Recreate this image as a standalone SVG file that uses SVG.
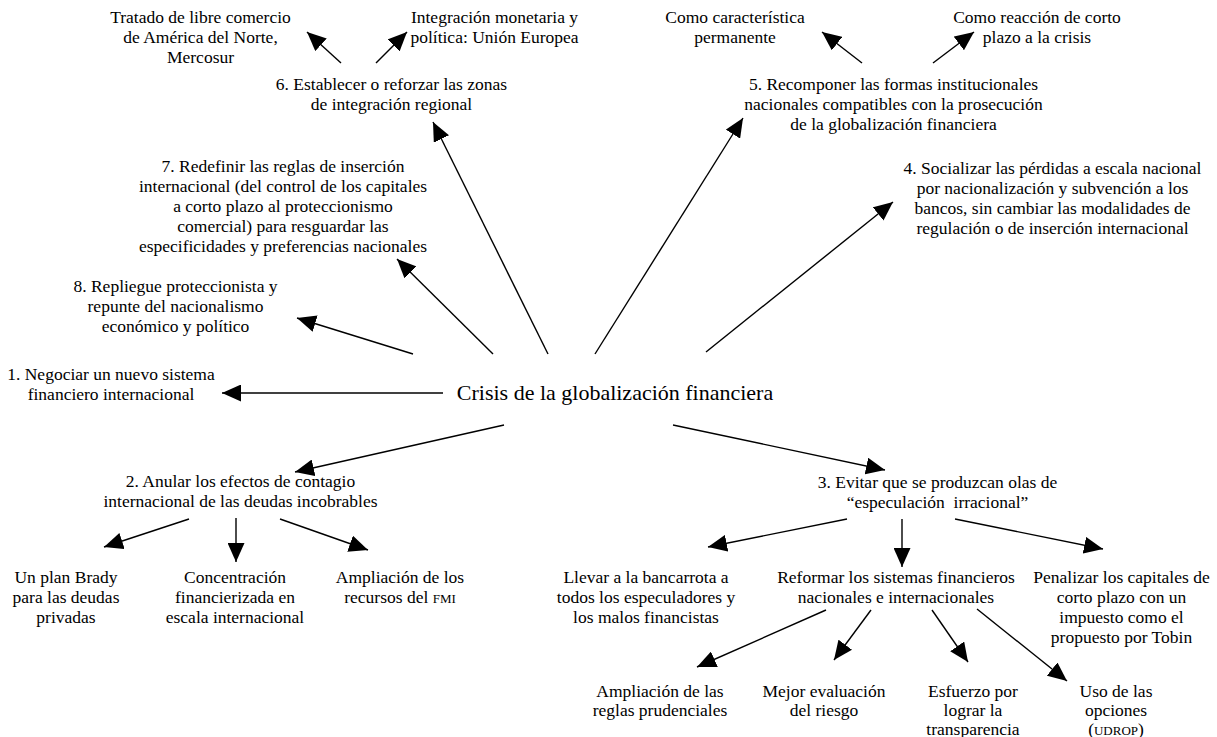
<svg xmlns="http://www.w3.org/2000/svg" width="1217" height="737" viewBox="0 0 1217 737">
<defs>
<marker id="ah" viewBox="0 0 19 17" refX="19" refY="8.5" markerWidth="19" markerHeight="17" orient="auto" markerUnits="userSpaceOnUse"><path d="M0,0 L19,8.5 L0,17 z" fill="#000"/></marker>
<style>
text{font-family:"Liberation Serif","Times New Roman",serif;font-size:17.5px;fill:#000;text-anchor:middle}
.title{font-size:22px}
.sc{font-size:13px}
#connectors line{stroke:#000;stroke-width:1.4;fill:none;marker-end:url(#ah)}
</style>
</defs>
<rect width="1217" height="737" fill="#fff"/>
<g id="connectors">
<line x1="443" y1="393" x2="222" y2="393"/>
<line x1="413" y1="354" x2="297" y2="318"/>
<line x1="493" y1="354" x2="397" y2="259"/>
<line x1="548" y1="354" x2="433" y2="122"/>
<line x1="595" y1="354" x2="743" y2="118"/>
<line x1="706" y1="352" x2="893" y2="202"/>
<line x1="504" y1="425" x2="295" y2="472"/>
<line x1="673" y1="425" x2="885" y2="470"/>
<line x1="341" y1="63" x2="307" y2="32"/>
<line x1="376" y1="63" x2="407" y2="32"/>
<line x1="862" y1="63" x2="822" y2="32"/>
<line x1="933" y1="63" x2="974" y2="32"/>
<line x1="189" y1="519" x2="104" y2="547"/>
<line x1="236" y1="518" x2="236" y2="562"/>
<line x1="280" y1="519" x2="368" y2="550"/>
<line x1="847" y1="519" x2="708" y2="547"/>
<line x1="902" y1="519" x2="902" y2="567"/>
<line x1="955" y1="519" x2="1103" y2="549"/>
<line x1="826" y1="610" x2="697" y2="667"/>
<line x1="871" y1="610" x2="834" y2="660"/>
<line x1="932" y1="610" x2="968" y2="662"/>
<line x1="977" y1="609" x2="1067" y2="681"/>
</g>
<g id="center"><text class="title" x="615" y="400">Crisis de la globalización financiera</text></g>
<g id="n1"><text x="111" y="380">1. Negociar un nuevo sistema<tspan x="111" dy="20">financiero internacional</tspan></text></g>
<g id="n2"><text x="240.5" y="487">2. Anular los efectos de contagio<tspan x="240.5" dy="20">internacional de las deudas incobrables</tspan></text></g>
<g id="n3"><text x="937.5" y="488" xml:space="preserve">3. Evitar que se produzcan olas de<tspan x="937.5" dy="20">“especulación  irracional”</tspan></text></g>
<g id="n4"><text x="1052.5" y="174">4. Socializar las pérdidas a escala nacional<tspan x="1052.5" dy="20">por nacionalización y subvención a los</tspan><tspan x="1052.5" dy="20">bancos, sin cambiar las modalidades de</tspan><tspan x="1052.5" dy="20">regulación o de inserción internacional</tspan></text></g>
<g id="n5"><text x="893.5" y="90">5. Recomponer las formas institucionales<tspan x="893.5" dy="20">nacionales compatibles con la prosecución</tspan><tspan x="893.5" dy="20">de la globalización financiera</tspan></text></g>
<g id="n6"><text x="391.5" y="90">6. Establecer o reforzar las zonas<tspan x="391.5" dy="20">de integración regional</tspan></text></g>
<g id="n7"><text x="283" y="172">7. Redefinir las reglas de inserción<tspan x="283" dy="20">internacional (del control de los capitales</tspan><tspan x="283" dy="20">a corto plazo al proteccionismo</tspan><tspan x="283" dy="20">comercial) para resguardar las</tspan><tspan x="283" dy="20">especificidades y preferencias nacionales</tspan></text></g>
<g id="n8"><text x="175.5" y="292">8. Repliegue proteccionista y<tspan x="175.5" dy="20">repunte del nacionalismo</tspan><tspan x="175.5" dy="20">económico y político</tspan></text></g>
<g id="n6a"><text x="200.5" y="23">Tratado de libre comercio<tspan x="200.5" dy="20">de América del Norte,</tspan><tspan x="200.5" dy="20">Mercosur</tspan></text></g>
<g id="n6b"><text x="494.5" y="23">Integración monetaria y<tspan x="494.5" dy="20">política: Unión Europea</tspan></text></g>
<g id="n5a"><text x="735" y="23">Como característica<tspan x="735" dy="20">permanente</tspan></text></g>
<g id="n5b"><text x="1037" y="23">Como reacción de corto<tspan x="1037" dy="20">plazo a la crisis</tspan></text></g>
<g id="n2a"><text x="66" y="583">Un plan Brady<tspan x="66" dy="20">para las deudas</tspan><tspan x="66" dy="20">privadas</tspan></text></g>
<g id="n2b"><text x="235" y="583">Concentración<tspan x="235" dy="20">financierizada en</tspan><tspan x="235" dy="20">escala internacional</tspan></text></g>
<g id="n2c"><text x="400" y="583">Ampliación de los<tspan x="400" dy="20">recursos del <tspan class="sc">FMI</tspan></tspan></text></g>
<g id="n3a"><text x="646" y="583">Llevar a la bancarrota a<tspan x="646" dy="20">todos los especuladores y</tspan><tspan x="646" dy="20">los malos financistas</tspan></text></g>
<g id="n3b"><text x="896" y="583">Reformar los sistemas financieros<tspan x="896" dy="20">nacionales e internacionales</tspan></text></g>
<g id="n3c"><text x="1121.5" y="583">Penalizar los capitales de<tspan x="1121.5" dy="20">corto plazo con un</tspan><tspan x="1121.5" dy="20">impuesto como el</tspan><tspan x="1121.5" dy="20">propuesto por Tobin</tspan></text></g>
<g id="r1"><text x="660" y="697">Ampliación de las<tspan x="660" dy="19">reglas prudenciales</tspan></text></g>
<g id="r2"><text x="824" y="697">Mejor evaluación<tspan x="824" dy="19">del riesgo</tspan></text></g>
<g id="r3"><text x="973" y="697">Esfuerzo por<tspan x="973" dy="19">lograr la</tspan><tspan x="973" dy="19">transparencia</tspan></text></g>
<g id="r4"><text x="1116" y="697">Uso de las<tspan x="1116" dy="19">opciones</tspan><tspan x="1116" dy="19">(<tspan class="sc">UDROP</tspan>)</tspan></text></g>
</svg>
